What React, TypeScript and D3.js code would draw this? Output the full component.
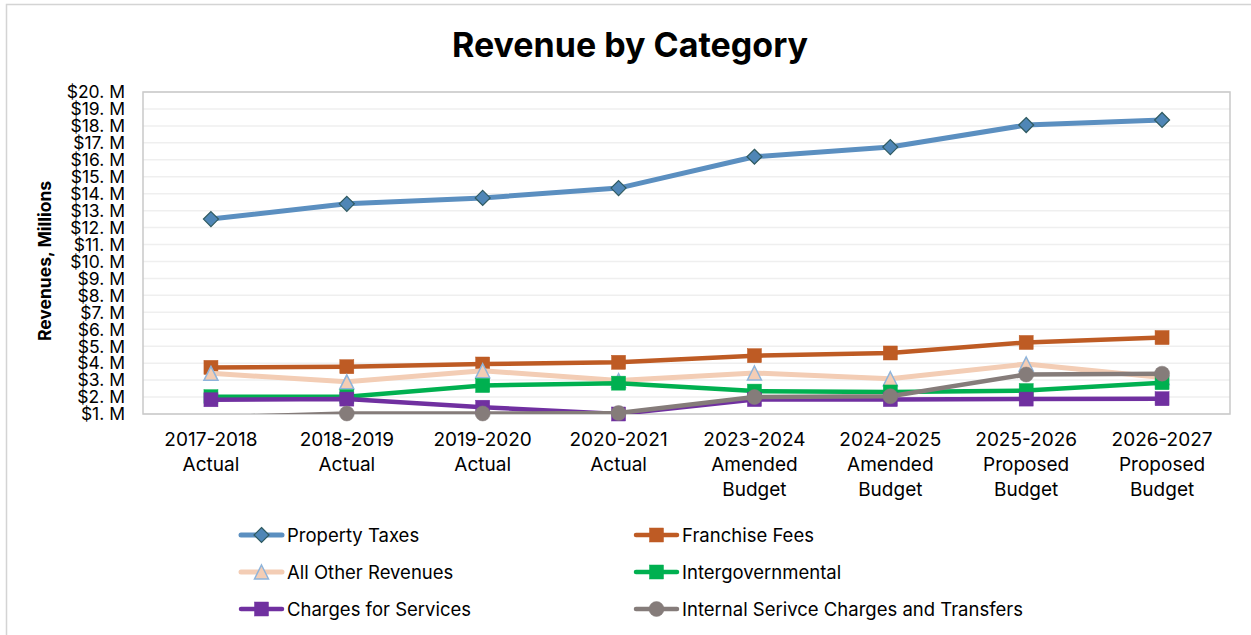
import React from "react";
import * as d3 from "d3";

const categories: string[][] = [
  ["2017-2018", "Actual"],
  ["2018-2019", "Actual"],
  ["2019-2020", "Actual"],
  ["2020-2021", "Actual"],
  ["2023-2024", "Amended", "Budget"],
  ["2024-2025", "Amended", "Budget"],
  ["2025-2026", "Proposed", "Budget"],
  ["2026-2027", "Proposed", "Budget"],
];

const propertyTaxes = [12.5, 13.4, 13.75, 14.33, 16.18, 16.75, 18.05, 18.35];
const franchiseFees = [3.75, 3.79, 3.95, 4.05, 4.44, 4.6, 5.22, 5.51];
const allOtherRevenues = [3.4, 2.9, 3.55, 2.97, 3.42, 3.08, 3.95, 3.15];
const intergovernmental = [2.02, 2.02, 2.68, 2.82, 2.35, 2.3, 2.38, 2.85];
const chargesForServices = [1.84, 1.88, 1.4, 1.0, 1.85, 1.85, 1.88, 1.9];
const internalCharges = [0.8, 1.03, 1.03, 1.06, 2.0, 2.05, 3.33, 3.38];

const yTicks = d3.range(1, 21);

type Marker = "diamond" | "square" | "triangle" | "circle";
interface Series {
  name: string;
  values: number[];
  color: string;
  marker: Marker;
  fill: string;
  stroke: string;
  width: number;
}

const series: Series[] = [
  { name: "Property Taxes", values: propertyTaxes, color: "#5B8FC0", marker: "diamond", fill: "#4F86B6", stroke: "#2F5A60", width: 5 },
  { name: "Franchise Fees", values: franchiseFees, color: "#BE5B24", marker: "square", fill: "#BE5B24", stroke: "#BE5B24", width: 4.5 },
  { name: "All Other Revenues", values: allOtherRevenues, color: "#F3CDB5", marker: "triangle", fill: "#F3CDB5", stroke: "#8FB4DA", width: 5 },
  { name: "Intergovernmental", values: intergovernmental, color: "#00B050", marker: "square", fill: "#00B050", stroke: "#00B050", width: 4.5 },
  { name: "Charges for Services", values: chargesForServices, color: "#7030A0", marker: "square", fill: "#7030A0", stroke: "#7030A0", width: 4.5 },
  { name: "Internal Serivce Charges and Transfers", values: internalCharges, color: "#857C7A", marker: "circle", fill: "#857C7A", stroke: "#857C7A", width: 4.5 },
];

const FONT = "Inter, 'Open Sans', sans-serif";

function MarkerShape({ type, x, y, fill, stroke }: { type: Marker; x: number; y: number; fill: string; stroke: string }) {
  if (type === "diamond") {
    const r = 7.5;
    return <path d={`M${x},${y - r}L${x + r},${y}L${x},${y + r}L${x - r},${y}Z`} fill={fill} stroke={stroke} strokeWidth={1.2} />;
  }
  if (type === "square") {
    const s = 14;
    return <rect x={x - s / 2} y={y - s / 2} width={s} height={s} fill={fill} stroke={stroke} strokeWidth={0.5} />;
  }
  if (type === "triangle") {
    const h = 14;
    const w = 14;
    return <path d={`M${x},${y - h / 2}L${x + w / 2},${y + h / 2}L${x - w / 2},${y + h / 2}Z`} fill={fill} stroke={stroke} strokeWidth={1.5} />;
  }
  return <circle cx={x} cy={y} r={7.5} fill={fill} stroke={stroke} strokeWidth={0.5} />;
}

export default function App() {
  const W = 1251;
  const H = 635;
  const plotL = 143;
  const plotR = 1230;
  const plotT = 92;
  const plotB = 414;

  const x = d3.scaleBand<number>().domain(d3.range(categories.length)).range([plotL, plotR]);
  const y = d3.scaleLinear().domain([1, 20]).range([plotB, plotT]);
  const cx = (i: number) => (x(i) as number) + x.bandwidth() / 2;

  const line = d3
    .line<number>()
    .x((_, i) => cx(i))
    .y((v) => y(v));

  const legendRows = [535, 572, 609];
  const legendCols = [241, 636];

  return (
    <svg width={W} height={H} style={{ position: "absolute", left: 0, top: 0, background: "#fff" }}>
      <defs>
        <clipPath id="plotClip">
          <rect x={plotL} y={plotT} width={plotR - plotL} height={plotB - plotT} />
        </clipPath>
      </defs>
      <rect x={0} y={0} width={W} height={H} fill="#fff" />
      <rect x={6.5} y={4.5} width={W + 20} height={H + 20} fill="none" stroke="#d4d4d4" strokeWidth={1.5} />

      <text x={630} y={57} textAnchor="middle" fontFamily={FONT} fontWeight={700} fontSize={34} fill="#000">
        Revenue by Category
      </text>

      {/* gridlines */}
      {yTicks.map((t) => (
        <line key={t} x1={plotL} x2={plotR} y1={y(t)} y2={y(t)} stroke="#efefef" strokeWidth={1.5} />
      ))}
      <rect x={plotL} y={plotT} width={plotR - plotL} height={plotB - plotT} fill="none" stroke="#c9c9c9" strokeWidth={1.5} />

      {/* y tick labels */}
      {yTicks.map((t) => (
        <text key={t} x={125} y={y(t)} dy="0.36em" textAnchor="end" fontFamily={FONT} fontSize={17.5} fill="#000">
          {`$${t}. M`}
        </text>
      ))}
      <text
        transform={`translate(51,${(plotT + plotB) / 2 + 8}) rotate(-90)`}
        textAnchor="middle"
        fontFamily={FONT}
        fontWeight={700}
        fontSize={17.5}
        fill="#000"
      >
        Revenues, Millions
      </text>

      {/* x labels */}
      {categories.map((lines, i) => (
        <text key={i} x={cx(i)} y={446} textAnchor="middle" fontFamily={FONT} fontSize={19} fill="#000">
          {lines.map((l, j) => (
            <tspan key={j} x={cx(i)} dy={j === 0 ? 0 : 25}>
              {l}
            </tspan>
          ))}
        </text>
      ))}

      {/* series */}
      {series.map((s) => (
        <g key={s.name}>
          <path d={line(s.values) || ""} fill="none" stroke={s.color} strokeWidth={s.width} strokeLinejoin="round" clipPath="url(#plotClip)" />
          {s.values.map((v, i) =>
            v >= 1 ? <MarkerShape key={i} type={s.marker} x={cx(i)} y={y(v)} fill={s.fill} stroke={s.stroke} /> : null
          )}
        </g>
      ))}

      {/* legend */}
      {series.map((s, k) => {
        const col = k % 2;
        const row = Math.floor(k / 2);
        const lx = legendCols[col];
        const ly = legendRows[row];
        return (
          <g key={s.name}>
            <line x1={lx} x2={lx + 41} y1={ly} y2={ly} stroke={s.color} strokeWidth={s.width} strokeLinecap="round" />
            <MarkerShape type={s.marker} x={lx + 20.5} y={ly} fill={s.fill} stroke={s.stroke} />
            <text x={lx + 46} y={ly} dy="0.36em" fontFamily={FONT} fontSize={18.5} fill="#000">
              {s.name}
            </text>
          </g>
        );
      })}
    </svg>
  );
}
